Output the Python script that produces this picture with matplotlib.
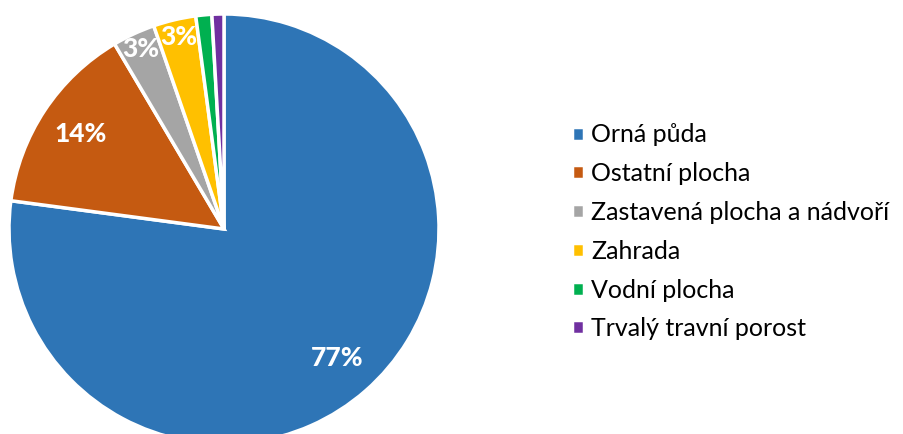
import numpy as np
import matplotlib.pyplot as plt

labels = ["Orná půda", "Ostatní plocha", "Zastavená plocha a nádvoří",
          "Zahrada", "Vodní plocha", "Trvalý travní porost"]
shares = [77.1, 14.4, 3.2, 3.2, 1.2, 0.9]
colors = ["#2E75B6", "#C55A11", "#A5A5A5", "#FFC000", "#00B050", "#7030A0"]
shown = [True, True, True, True, False, False]

plt.rcParams["font.family"] = ["Lato", "DejaVu Sans"]

W, H = 904, 434
fig = plt.figure(figsize=(W / 100, H / 100), dpi=100)

# pie centre ~ (224, 229) px, radius ~214 px (bottom is clipped by the figure edge)
cx, cy, r = 224, 229, 215
ax = fig.add_axes([(cx - r) / W, (H - cy - r) / H, 2 * r / W, 2 * r / H])
wedges, _ = ax.pie(shares, colors=colors, startangle=90, counterclock=False,
                   wedgeprops=dict(edgecolor="white", linewidth=2.5))
ax.set_xlim(-1, 1)
ax.set_ylim(-1, 1)
ax.set_aspect("equal")
ax.axis("off")

for w, val, show in zip(wedges, shares, shown):
    if not show:
        continue
    ang = np.deg2rad((w.theta1 + w.theta2) / 2)
    rr = 0.8 if val > 10 else 0.92
    ax.text(rr * np.cos(ang), rr * np.sin(ang), f"{round(val):.0f}%",
            ha="center", va="center", color="white", fontsize=19, fontweight="black")

leg = fig.legend(wedges, labels, loc="upper left", bbox_to_anchor=(559 / W, 1 - 111 / H),
                 frameon=False, fontsize=18, handlelength=0.48, handleheight=0.48,
                 handletextpad=0.3, labelspacing=0.63, borderpad=0)

fig.savefig("out.png", dpi=100)
